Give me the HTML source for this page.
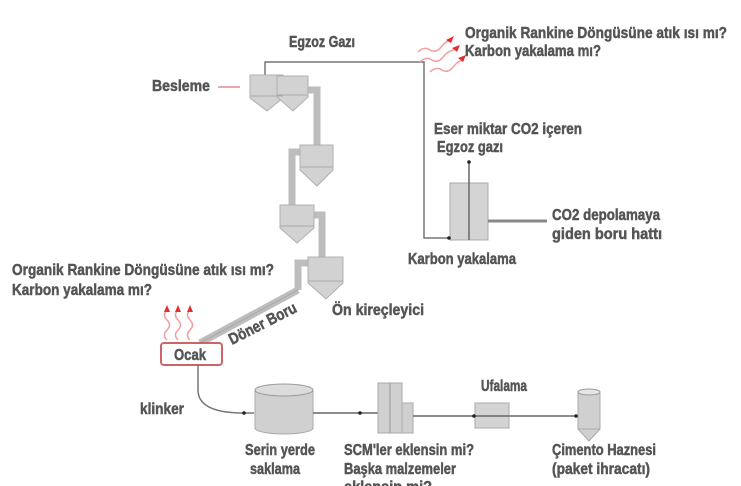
<!DOCTYPE html>
<html><head><meta charset="utf-8"><style>
html,body{margin:0;padding:0;background:#fff;}
svg{display:block;}
text{font-family:"Liberation Sans Narrow","Liberation Sans",sans-serif;font-weight:bold;fill:#555;stroke:#555;stroke-width:0.5;font-size:16px;}
</style></head><body>
<svg width="741" height="486" viewBox="0 0 741 486" xmlns="http://www.w3.org/2000/svg">
<!-- exhaust line -->
<polyline points="265,76 265,62 424,62 424,238 448,238" fill="none" stroke="#777" stroke-width="1.5"/>
<g fill="none" stroke="#f0a0a0" stroke-width="1.5">
<path d="M418,52 q6,-6 12,-2 q6,4 12,-4 q4,-5 10,-6"/>
<path d="M420,62 q6,-6 12,-2 q6,4 12,-4 q4,-5 10,-6"/>
<path d="M430,72 q6,-6 12,-2 q6,4 12,-4 q4,-5 10,-6"/>
</g>
<g fill="#e03030"><path d="M446,40 l8,-4 -3,7z"/><path d="M452,48 l8,-3 -3,7z"/><path d="M458,58 l8,-3 -3,7z"/></g>
<text x="465" y="38" textLength="262" lengthAdjust="spacingAndGlyphs">Organik Rankine Döngüsüne atık ısı mı?</text>
<text x="465" y="56" textLength="136" lengthAdjust="spacingAndGlyphs">Karbon yakalama mı?</text>
<text x="289" y="47" textLength="66" lengthAdjust="spacingAndGlyphs">Egzoz Gazı</text>
<text x="434" y="134" textLength="148" lengthAdjust="spacingAndGlyphs">Eser miktar CO2 içeren</text>
<text x="437" y="152" textLength="66" lengthAdjust="spacingAndGlyphs">Egzoz gazı</text>
<rect x="450" y="183" width="38" height="57" fill="#d4d4d4" stroke="#aaa"/>
<line x1="469" y1="162" x2="469" y2="240" stroke="#666" stroke-width="1.5"/>
<circle cx="469" cy="162" r="1.8" fill="#222"/>
<line x1="488" y1="221" x2="547" y2="221" stroke="#888" stroke-width="3"/>
<text x="552" y="220" textLength="108" lengthAdjust="spacingAndGlyphs">CO2 depolamaya</text>
<text x="552" y="239" textLength="110" lengthAdjust="spacingAndGlyphs">giden boru hattı</text>
<text x="408" y="264" textLength="108" lengthAdjust="spacingAndGlyphs">Karbon yakalama</text>
<text x="152" y="91" textLength="58" lengthAdjust="spacingAndGlyphs">Besleme</text>
<line x1="218" y1="87" x2="240" y2="87" stroke="#c55" stroke-width="1"/>
<g fill="none" stroke="#bdbdbd" stroke-width="7" stroke-linejoin="miter">
<polyline points="306,90 317,90 317,148"/>
<polyline points="302,152 292,152 292,207"/>
<polyline points="312,215 322,215 322,260"/>
<polyline points="310,263 298,263 298,290"/>
<line x1="298" y1="290" x2="200" y2="343"/>
</g>
<line x1="298" y1="290" x2="200" y2="343" stroke="#aaa" stroke-width="1"/>
<g fill="#d2d2d2" stroke="#b0b0b0" stroke-width="1">
<path d="M250,75 h33 v23 l-16,13 l-17,-13z"/>
<path d="M277,76 h31 v21 l-15,14 l-16,-14z"/>
<path d="M300,145 h33 v25 l-16,16 l-17,-16z"/>
<path d="M280,205 h34 v23 l-17,15 l-17,-15z"/>
<path d="M308,257 h35 v26 l-17,16 l-18,-16z"/>
</g>
<g stroke="#aaa"><line x1="250" y1="96" x2="283" y2="96"/><line x1="277" y1="95" x2="308" y2="95"/><line x1="300" y1="167" x2="333" y2="167"/><line x1="280" y1="226" x2="314" y2="226"/><line x1="308" y1="281" x2="343" y2="281"/></g>
<text x="332" y="315" textLength="92" lengthAdjust="spacingAndGlyphs">Ön kireçleyici</text>
<text transform="translate(232,345) rotate(-27)" textLength="74" lengthAdjust="spacingAndGlyphs">Döner Boru</text>
<text x="12" y="275" textLength="262" lengthAdjust="spacingAndGlyphs">Organik Rankine Döngüsüne atık ısı mı?</text>
<text x="12" y="295" textLength="140" lengthAdjust="spacingAndGlyphs">Karbon yakalama mı?</text>
<g fill="none" stroke="#f0a0a0" stroke-width="1.5">
<path d="M167,310 q-5,5 0,10 q5,5 0,10 q-5,5 0,10"/>
<path d="M178,310 q-5,5 0,10 q5,5 0,10 q-5,5 0,10"/>
<path d="M190,310 q-5,5 0,10 q5,5 0,10 q-5,5 0,10"/>
</g>
<g fill="#e03030"><path d="M164,312 l3,-7 3,7z"/><path d="M175,312 l3,-7 3,7z"/><path d="M187,312 l3,-7 3,7z"/></g>
<rect x="161" y="343" width="61" height="22" rx="3" fill="#fff" stroke="#c66" stroke-width="2"/>
<text x="174" y="360" textLength="32" lengthAdjust="spacingAndGlyphs">Ocak</text>
<path d="M198,365 V390 Q198,412 240,413 L254,413" fill="none" stroke="#777" stroke-width="1.5"/>
<text x="140" y="414" textLength="44" lengthAdjust="spacingAndGlyphs">klinker</text>
<path d="M255,390 v38 a29,6 0 0 0 58,0 v-38z" fill="#d0d0d0" stroke="#aaa"/>
<ellipse cx="284" cy="390" rx="29" ry="6" fill="#dcdcdc" stroke="#999"/>
<line x1="313" y1="413" x2="378" y2="413" stroke="#666" stroke-width="1.5"/>
<rect x="378" y="383" width="24" height="50" fill="#d0d0d0" stroke="#aaa"/>
<line x1="390" y1="383" x2="390" y2="433" stroke="#999"/>
<rect x="402" y="403" width="11" height="30" fill="#d0d0d0" stroke="#aaa"/>
<line x1="413" y1="416" x2="578" y2="416" stroke="#666" stroke-width="1.5"/>
<rect x="475" y="403" width="34" height="25" fill="#d4d4d4" stroke="#aaa"/>
<line x1="475" y1="416" x2="509" y2="416" stroke="#666" stroke-width="1.5"/>
<text x="481" y="391" textLength="46" lengthAdjust="spacingAndGlyphs">Ufalama</text>
<path d="M578,392 h22 v37 l-11,12 l-11,-12z" fill="#d0d0d0" stroke="#aaa"/>
<ellipse cx="589" cy="392" rx="11" ry="3" fill="#e6e6e6" stroke="#999"/>
<line x1="578" y1="429" x2="600" y2="429" stroke="#aaa"/>
<g fill="#222"><circle cx="244" cy="413" r="1.8"/><circle cx="360" cy="413" r="1.8"/><circle cx="449" cy="238" r="1.8"/><circle cx="474" cy="416" r="1.8"/><circle cx="576" cy="416" r="1.8"/></g>
<text x="245" y="455" textLength="70" lengthAdjust="spacingAndGlyphs">Serin yerde</text>
<text x="250" y="474" textLength="50" lengthAdjust="spacingAndGlyphs">saklama</text>
<text x="344" y="455" textLength="130" lengthAdjust="spacingAndGlyphs">SCM'ler eklensin mi?</text>
<text x="344" y="474" textLength="112" lengthAdjust="spacingAndGlyphs">Başka malzemeler</text>
<text x="344" y="492" textLength="88" lengthAdjust="spacingAndGlyphs">eklensin mi?</text>
<text x="552" y="455" textLength="104" lengthAdjust="spacingAndGlyphs">Çimento Haznesi</text>
<text x="552" y="474" textLength="98" lengthAdjust="spacingAndGlyphs">(paket ihracatı)</text>
</svg>
</body></html>
